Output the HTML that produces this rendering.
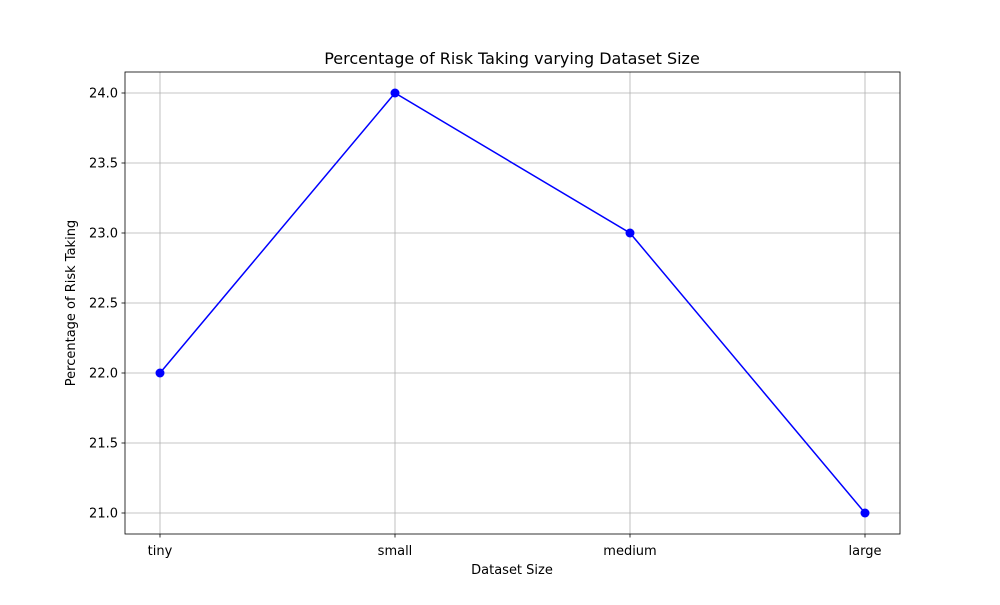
<!DOCTYPE html>
<html><head><meta charset="utf-8"><style>
body{margin:0;background:#fff;font-family:"Liberation Sans","DejaVu Sans",sans-serif;}
svg text{font-family:"DejaVu Sans","Liberation Sans",sans-serif;}
</style></head><body>
<svg id="chart" width="1000" height="600" xmlns="http://www.w3.org/2000/svg"></svg>
<script>
const categories = ["tiny","small","medium","large"];
const values = [22,24,23,21];
const yTicks = [21.0,21.5,22.0,22.5,23.0,23.5,24.0];
const yTickLabels = ["21.0","21.5","22.0","22.5","23.0","23.5","24.0"];

const svg = document.getElementById('chart');
const NS = 'http://www.w3.org/2000/svg';
const L=125,R=900,T=72,B=534;
const yMin=20.85,yMax=24.15;
function xs(i){return 160+i*(865-160)/(categories.length-1);}
function ys(v){return B-(v-yMin)/(yMax-yMin)*(B-T);}
function mk(tag,attrs,parent){const e=document.createElementNS(NS,tag);for(const k in attrs)e.setAttribute(k,attrs[k]);(parent||svg).appendChild(e);return e;}

const grid=mk('g',{});


categories.forEach((c,i)=>{
  mk('line',{x1:xs(i),x2:xs(i),y1:T,y2:B,stroke:'#b0b0b0','stroke-width':0.8},grid);
  mk('line',{x1:xs(i),x2:xs(i),y1:B,y2:B+3.5,stroke:'#000','stroke-width':0.8},grid);
  const t=mk('text',{x:xs(i),y:B+21,'text-anchor':'middle','font-size':13,fill:'#000'});
  t.textContent=c;
  
  
});
yTicks.forEach((v,i)=>{
  mk('line',{x1:L,x2:R,y1:ys(v),y2:ys(v),stroke:'#b0b0b0','stroke-width':0.8},grid);
  mk('line',{x1:L-3.5,x2:L,y1:ys(v),y2:ys(v),stroke:'#000','stroke-width':0.8},grid);
  const t=mk('text',{x:L-7,y:ys(v)+4.5,'text-anchor':'end','font-size':13,fill:'#000'});
  t.textContent=yTickLabels[i];
  
  
});
const frame=mk('rect',{x:L,y:T,width:R-L,height:B-T,fill:'none',stroke:'#000','stroke-width':0.8});



const line=mk('polyline',{points:values.map((v,i)=>xs(i)+','+ys(v)).join(' '),fill:'none',stroke:'#0000ff','stroke-width':1.5});


values.forEach((v,i)=>{
  const c=mk('circle',{cx:xs(i),cy:ys(v),r:4.5,fill:'#0000ff'});
  
  
});

const title=mk('text',{x:512,y:64,'text-anchor':'middle','font-size':16,fill:'#000'});
title.textContent='Percentage of Risk Taking varying Dataset Size';


const xt=mk('text',{x:512,y:574,'text-anchor':'middle','font-size':13,fill:'#000'});
xt.textContent='Dataset Size';


const yt=mk('text',{x:0,y:0,'text-anchor':'middle','font-size':13,fill:'#000',transform:'translate(75,303) rotate(-90)'});
yt.textContent='Percentage of Risk Taking';


</script>
</body></html>
